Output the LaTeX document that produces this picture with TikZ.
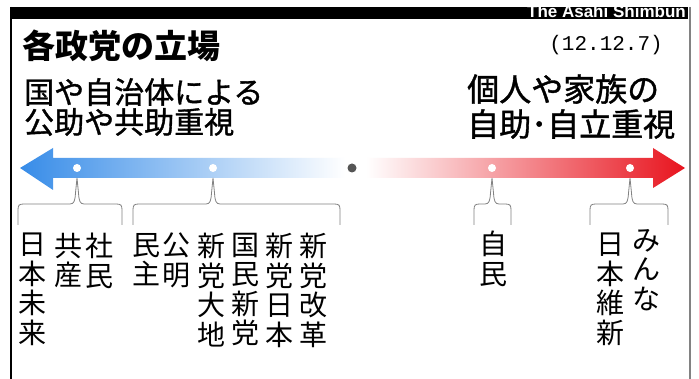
\documentclass[tikz,border=0pt]{standalone}
\usepackage{fontspec}
\newfontfamily\jp{Noto Sans CJK JP}
\newfontfamily\jph[FakeBold=1.2]{Noto Sans CJK JP}
\newfontfamily\sansen{Liberation Sans}
\newfontfamily\monoen{Liberation Mono}
\definecolor{blueA}{RGB}{55,140,232}
\definecolor{redA}{RGB}{232,20,30}
\definecolor{braceG}{RGB}{130,130,130}
\definecolor{dotG}{RGB}{85,85,85}
\tikzset{
  wdot/.style={circle, fill=white, inner sep=0pt, minimum size=8pt},
  cdot/.style={circle, fill=dotG, inner sep=0pt, minimum size=9pt},
  bracesty/.style={draw=braceG, line width=0.8pt},
  party/.style={font=\jp\fontsize{28}{29.5}\selectfont, align=center, inner sep=0pt, anchor=north},
  heading/.style={font=\jph\fontsize{30}{30}\selectfont, inner sep=0pt, anchor=west},
  headingR/.style={font=\jph\fontsize{32}{32}\selectfont, inner sep=0pt, anchor=west}
}
\newcommand\brc[3]{%
  \draw[bracesty] ([shift={(#2,57)}]#1.center) -- ([shift={(#2,42)}]#1.center)
    .. controls ([shift={(#2,37)}]#1.center) and ([shift={(#2+1,36)}]#1.center) .. ([shift={(#2+6,36)}]#1.center)
    -- ([shift={(-7,36)}]#1.center)
    .. controls ([shift={(-3,36)}]#1.center) and ([shift={(-2,33)}]#1.center) .. ([shift={(-1.5,25)}]#1.center)
    -- ([shift={(0,10)}]#1.center)
    -- ([shift={(1.5,25)}]#1.center)
    .. controls ([shift={(2,33)}]#1.center) and ([shift={(3,36)}]#1.center) .. ([shift={(7,36)}]#1.center)
    -- ([shift={(#3-6,36)}]#1.center)
    .. controls ([shift={(#3-1,36)}]#1.center) and ([shift={(#3,37)}]#1.center) .. ([shift={(#3,42)}]#1.center)
    -- ([shift={(#3,57)}]#1.center);}
\begin{document}
\begin{tikzpicture}[x=1pt,y=-1pt]
\useasboundingbox (0,0) rectangle (699,379);
\fill[white] (0,0) rectangle (699,379);
% frame
\fill[black] (10,7) rectangle (688,19);
\draw[black, line width=1.5pt] (10.75,7) -- (10.75,379);
\draw[braceG, line width=2pt] (690,7) -- (690,379);
\node[font=\sansen\bfseries\fontsize{17}{17}\selectfont, text=white, inner sep=0pt, anchor=base east] (brand) at (686,18) {The Asahi Shimbun};
% titles
\node[font=\jp\bfseries\fontsize{33}{33}\selectfont, inner sep=0pt, anchor=west] (title) at (22,46) {各政党の立場};
\node[font=\monoen\fontsize{21}{21}\selectfont, inner sep=0pt, anchor=east] (date) at (663,45) {(12.12.7)};
\node[heading] (l1) at (24,92) {国や自治体による};
\node[heading] (l2) at (24,122) {公助や共助重視};
\node[headingR] (r1) at (467,89) {個人や家族の};
\node[headingR] (r2) at (467,124) {自助･自立重視};
% arrows
\shade[left color=blueA, right color=white] (20,168) -- (53,148) -- (53,158) -- (345,158) -- (345,178) -- (53,178) -- (53,190) -- cycle;
\shade[left color=white, right color=redA] (366,158) -- (653,158) -- (653,148) -- (685,168) -- (653,188) -- (653,178) -- (366,178) -- cycle;
% dots
\node[cdot] (c) at (352,168) {};
\node[wdot] (d1) at (77,168) {};
\node[wdot] (d2) at (213,168) {};
\node[wdot] (d3) at (492,168) {};
\node[wdot] (d4) at (630,168) {};
% braces
\brc{d1}{-59}{45}
\brc{d2}{-80}{127}
\brc{d3}{-18}{19}
\brc{d4}{-40}{38}
% parties
\node[party] (p1) at (32,233) {日\\本\\未\\来};
\node[party] (p2) at (68,233) {共\\産};
\node[party] (p3) at (99,233) {社\\民};
\node[party] (p4) at (146,233) {民\\主};
\node[party] (p5) at (176,233) {公\\明};
\node[party] (p6) at (211,233) {新\\党\\大\\地};
\node[party] (p7) at (245,233) {国\\民\\新\\党};
\node[party] (p8) at (279,233) {新\\党\\日\\本};
\node[party] (p9) at (313,233) {新\\党\\改\\革};
\node[party] (p10) at (493,231) {自\\民};
\node[party] (p11) at (610,233) {日\\本\\維\\新};
\node[party] (p12) at (646,229) {み\\ん\\な};
\end{tikzpicture}
\end{document}
